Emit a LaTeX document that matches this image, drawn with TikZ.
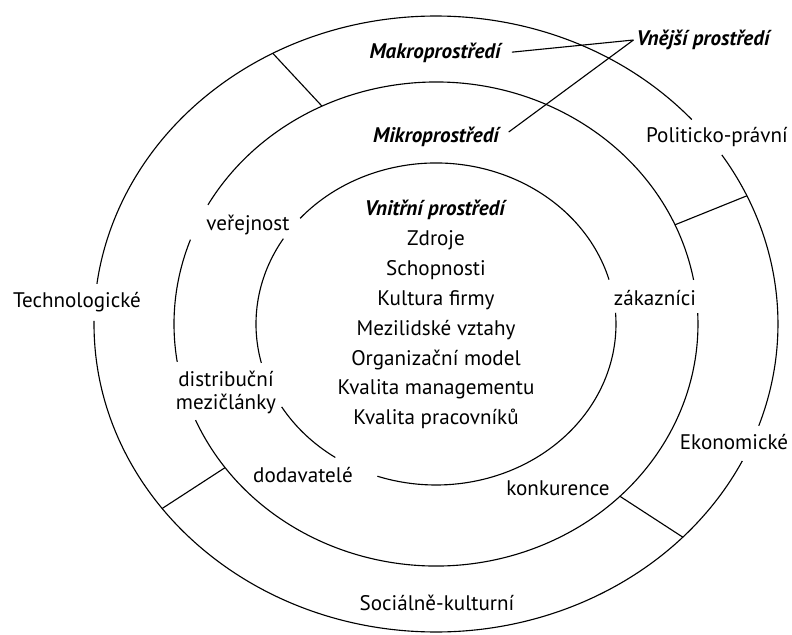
\documentclass[tikz,border=0pt]{standalone}
\usepackage{fontspec}
\setmainfont{PT Sans}
\tikzstyle{every node}=[font=\fontsize{15}{21.3}\selectfont,inner sep=2pt]
\tikzstyle{ring}=[line width=0.8pt]
\tikzstyle{env}=[font=\fontsize{15}{21.3}\selectfont\bfseries\itshape]

\begin{document}
\begin{tikzpicture}[x=0.025cm,y=0.025cm]
  \useasboundingbox (-436,-310) rectangle (356,324);

  % outer ring (makro)
  \draw[ring] (41.6:342 and 308) arc[start angle=41.6,end angle=172.5,x radius=342,y radius=308];
  \draw[ring] (179.4:342 and 308) arc[start angle=179.4,end angle=333.6,x radius=342,y radius=308];
  \draw[ring] (-19.3:342 and 308) arc[start angle=-19.3,end angle=33.3,x radius=342,y radius=308];
  % middle ring (mikro)
  \draw[ring] (10.5:262 and 242) arc[start angle=10.5,end angle=150.5,x radius=262,y radius=242];
  \draw[ring] (159.6:262 and 242) arc[start angle=159.6,end angle=189,x radius=262,y radius=242];
  \draw[ring] (203.4:262 and 242) arc[start angle=203.4,end angle=362.6,x radius=262,y radius=242];
  % inner ring
  \draw[ring] (16:180 and 161) arc[start angle=16,end angle=139,x radius=180,y radius=161];
  \draw[ring] (148:180 and 161) arc[start angle=148,end angle=194,x radius=180,y radius=161];
  \draw[ring] (211:180 and 161) arc[start angle=211,end angle=236,x radius=180,y radius=161];
  \draw[ring] (251:180 and 161) arc[start angle=251,end angle=364,x radius=180,y radius=161];

  % dividers
  \coordinate (o1) at (118.5:342 and 308);
  \coordinate (m1) at (115.8:262 and 242);
  \coordinate (o2) at (24.6:342 and 308);
  \coordinate (m2) at (24.2:262 and 242);
  \coordinate (o3) at (216.8:342 and 308);
  \coordinate (m3) at (216.4:262 and 242);
  \coordinate (o4) at (-43.8:342 and 308);
  \coordinate (m4) at (-45.4:262 and 242);
  \draw[ring] (o1) -- (m1);
  \draw[ring] (o2) -- (m2);
  \draw[ring] (o3) -- (m3);
  \draw[ring] (o4) -- (m4);

  \node[env] (makro) at (-1,271) {Makroprostředí};
  \node[env] (mikro) at (0,187) {Mikroprostředí};
  \node[env] (vnejsi) at (267,284) {Vnější prostředí};
  \draw[ring,shorten <=6pt] (makro.east) -- (vnejsi.west);
  \draw[ring,shorten <=6pt] (mikro.east) -- (vnejsi.west);

  \node[align=center] (vnitrni) at (0,9.5) {\textbf{\textit{Vnitřní prostředí}}\\Zdroje\\Schopnosti\\Kultura firmy\\Mezilidské vztahy\\Organizační model\\Kvalita managementu\\Kvalita pracovníků};

  \node (verejnost) at (-188,99) {veřejnost};
  \node[align=center] (distrib) at (-210,-68) {distribuční\\[-5pt]mezičlánky};
  \node (zakaznici) at (219,26) {zákazníci};
  \node (dodavatele) at (-133,-151) {dodavatelé};
  \node (konkurence) at (122,-164) {konkurence};

  \node (techno) at (-359,22) {Technologické};
  \node (polit) at (281,187) {Politicko-právní};
  \node (ekonom) at (298,-118) {Ekonomické};
  \node (social) at (1,-279) {Sociálně-kulturní};
\end{tikzpicture}
\end{document}
